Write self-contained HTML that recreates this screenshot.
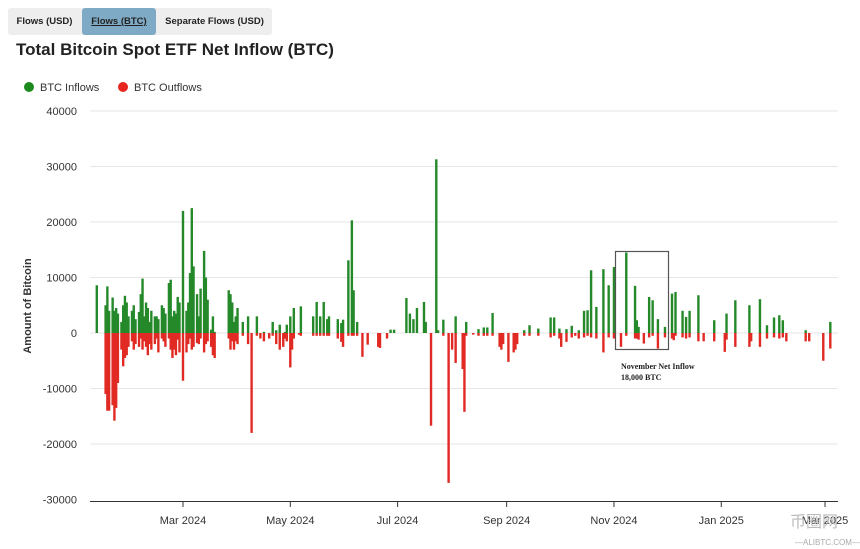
<!DOCTYPE html>
<html><head><meta charset="utf-8"><style>
body{margin:0;width:860px;height:549px;background:#fff;font-family:"Liberation Sans",sans-serif;overflow:hidden;position:relative}
.tabs{position:absolute;left:8px;top:8px;height:27px;width:264px;background:#eee;border-radius:3px}
.tab{position:absolute;top:0;height:27px;line-height:27px;font-size:9.5px;font-weight:bold;color:#222;text-align:center}
h1{position:absolute;left:16px;top:40px;margin:0;font-size:17px;font-weight:bold;color:#222}
.leg{position:absolute;top:82px;font-size:11px;color:#333}
.dot{display:inline-block;width:10px;height:10px;border-radius:50%;vertical-align:-1px;margin-right:6px}
</style></head><body>
<div class="tabs">
<div class="tab" style="left:0;width:73px">Flows (USD)</div>
<div class="tab" style="left:74px;width:74px;background:#7eaac5;border-radius:3px;text-decoration:underline">Flows (BTC)</div>
<div class="tab" style="left:149px;width:115px">Separate Flows (USD)</div>
</div>
<h1>Total Bitcoin Spot ETF Net Inflow (BTC)</h1>
<div class="leg" style="left:24px"><span class="dot" style="background:#1e8a1e"></span>BTC Inflows</div>
<div class="leg" style="left:118px"><span class="dot" style="background:#e8251f"></span>BTC Outflows</div>
<svg id="chart" width="860" height="549" style="position:absolute;left:0;top:0"></svg>
<script>
const days=[1,6,7,8,10,11,12,13,15,16,17,18,19,21,22,23,25,26,27,28,29,30,31,32,34,35,36,38,39,40,42,43,44,45,46,47,48,50,52,53,54,55,56,58,59,60,62,63,64,66,67,68,76,77,78,79,80,81,84,87,89,92,94,96,99,101,103,105,107,108,109,111,112,113,116,117,124,126,128,130,132,133,138,140,141,144,146,147,149,152,155,161,162,166,168,170,177,179,181,183,187,188,191,194,195,198,201,203,205,209,210,211,215,218,221,223,226,230,231,232,235,238,239,240,244,247,252,259,261,264,265,268,271,273,275,278,280,282,285,289,292,295,299,302,307,308,309,312,315,317,320,324,328,329,330,334,336,338,343,346,352,358,359,364,372,373,378,382,386,389,391,393,404,406,414,418];
const inflows=[8600,5000,8400,4000,6400,4000,4500,3500,2000,5000,6700,5500,3000,4000,5000,2500,3800,7000,9800,3000,5500,4500,2000,4000,3000,3000,2500,5000,4500,3500,9000,9600,3000,4000,3500,6500,5500,22000,4000,5500,10800,22500,12000,7000,3000,8000,14800,10000,6000,600,3000,200,7700,7000,5500,2000,3000,4500,2000,3000,0,3000,0,200,0,2000,500,1500,0,200,1500,3000,0,4500,0,4800,3000,5600,3000,5600,2500,3000,2500,1800,2400,13100,20300,7700,2000,0,0,0,0,0,600,600,6300,3500,2500,4500,5600,2000,0,31300,500,2400,0,0,3000,0,0,2000,0,700,1000,1000,3600,0,0,0,0,0,0,0,500,1400,800,2800,2800,800,0,700,1300,0,500,4000,4100,11300,4700,11500,8600,11900,0,14500,8500,2300,1100,0,6500,5900,2500,1100,7100,0,7400,4000,2900,4000,6800,0,2300,0,3500,5900,5000,0,6100,1400,2800,3200,2300,0,500,0,0,2000];
const outflows=[0,-11000,-14000,-14000,-13000,-15800,-13500,-9000,-3000,-6000,-4500,-4000,-2500,-1500,-3000,-2000,-2500,-1000,-3000,-1500,-2500,-4000,-2000,-3000,-2000,-1000,-3500,-1000,-1500,-2500,-1000,-3000,-4500,-3000,-4000,-1200,-3500,-8600,-3500,-2000,-1000,-3000,-2500,-1800,-2000,-1000,-3500,-2000,-1500,-2500,-4000,-4500,-1000,-3000,-1500,-3000,-1500,-2000,-500,-2000,-18000,-500,-1000,-1500,-1000,-500,-2000,-3000,-2500,-1000,-1500,-6200,-3000,-1000,-300,-500,-500,-500,-500,-500,-500,-500,-1000,-1600,-2500,-500,-500,-500,-500,-4300,-2100,-2500,-2700,-1000,0,0,0,0,0,0,0,0,-16700,0,0,-500,-27000,-3000,-5400,-6500,-14200,-500,-300,-500,-500,-500,-500,-2500,-3000,-2000,-5200,-3500,-3000,-2000,-500,-500,-500,-800,-500,-1000,-2500,-1600,-800,-500,-1000,-800,-500,-800,-1000,-3500,-800,-1000,-2500,-500,-1000,-1000,-1200,-1900,-800,-500,-2800,-800,-1000,-1300,-500,-800,-1000,-800,-1500,-1500,-1500,-3400,-1200,-2500,-2500,-1500,-2500,-1000,-800,-1000,-800,-1500,-1500,-1500,-5000,-2800];
const yTicks=[40000,30000,20000,10000,0,-10000,-20000,-30000];
const xTickLabels=["Mar 2024","May 2024","Jul 2024","Sep 2024","Nov 2024","Jan 2025","Mar 2025"];
const xTickDays=[50,111,172,234,295,356,415];
const NS="http://www.w3.org/2000/svg",svg=document.getElementById("chart");
const y=v=>333-v*(222/40000);
const x=d=>183+(d-50)*1.759;
function el(t,a,p){const e=document.createElementNS(NS,t);for(const k in a)e.setAttribute(k,a[k]);(p||svg).appendChild(e);return e;}
yTicks.forEach(v=>{
 if(v>-30000){const g=el("line",{x1:90,x2:838,y1:y(v),y2:y(v),stroke:"#e6e6e6"});
 
 }
 const t=el("text",{x:77,y:y(v)+4,"text-anchor":"end","font-size":"11",fill:"#333"});t.textContent=v;
 
 
});
const ax=el("line",{x1:90,x2:838,y1:501.5,y2:501.5,stroke:"#333"});


xTickLabels.forEach((l,i)=>{
 const xx=x(xTickDays[i]);
 el("line",{x1:xx,x2:xx,y1:501,y2:507,stroke:"#333"});
 const t=el("text",{x:xx,y:524,"text-anchor":"middle","font-size":"11",fill:"#333"});t.textContent=l;
 
 
});
const yt=el("text",{transform:"translate(31,306) rotate(-90)","text-anchor":"middle","font-size":"11","font-weight":"bold",fill:"#333"});
yt.textContent="Amount of Bitcoin";


days.forEach((d,i)=>{
 const xx=x(d)-1.2;
 if(inflows[i]>0){const b=el("rect",{x:xx,y:y(inflows[i]),width:2.4,height:y(0)-y(inflows[i]),fill:"#25892a"});
 
 }
 if(outflows[i]<0){const b=el("rect",{x:xx,y:y(0),width:2.4,height:y(outflows[i])-y(0),fill:"#e12a24"});
 
 }
});
const box=el("rect",{x:615.5,y:251.5,width:53,height:98,fill:"none",stroke:"#555","stroke-width":1.2});


const a1=el("text",{x:621,y:369,"font-size":"8","font-weight":"bold","font-family":"Liberation Serif,serif",fill:"#222"});a1.textContent="November Net Inflow";


const a2=el("text",{x:621,y:380,"font-size":"8","font-weight":"bold","font-family":"Liberation Serif,serif",fill:"#222"});a2.textContent="18,000 BTC";


const w=el("text",{x:790,y:527,"font-size":"16",fill:"#bbb","font-family":"Noto Sans CJK SC,sans-serif"});w.textContent="币圈网";


const w2=el("text",{x:795,y:545,"font-size":"8",fill:"#aaa"});w2.textContent="—ALIBTC.COM—";


</script>
</body></html>
